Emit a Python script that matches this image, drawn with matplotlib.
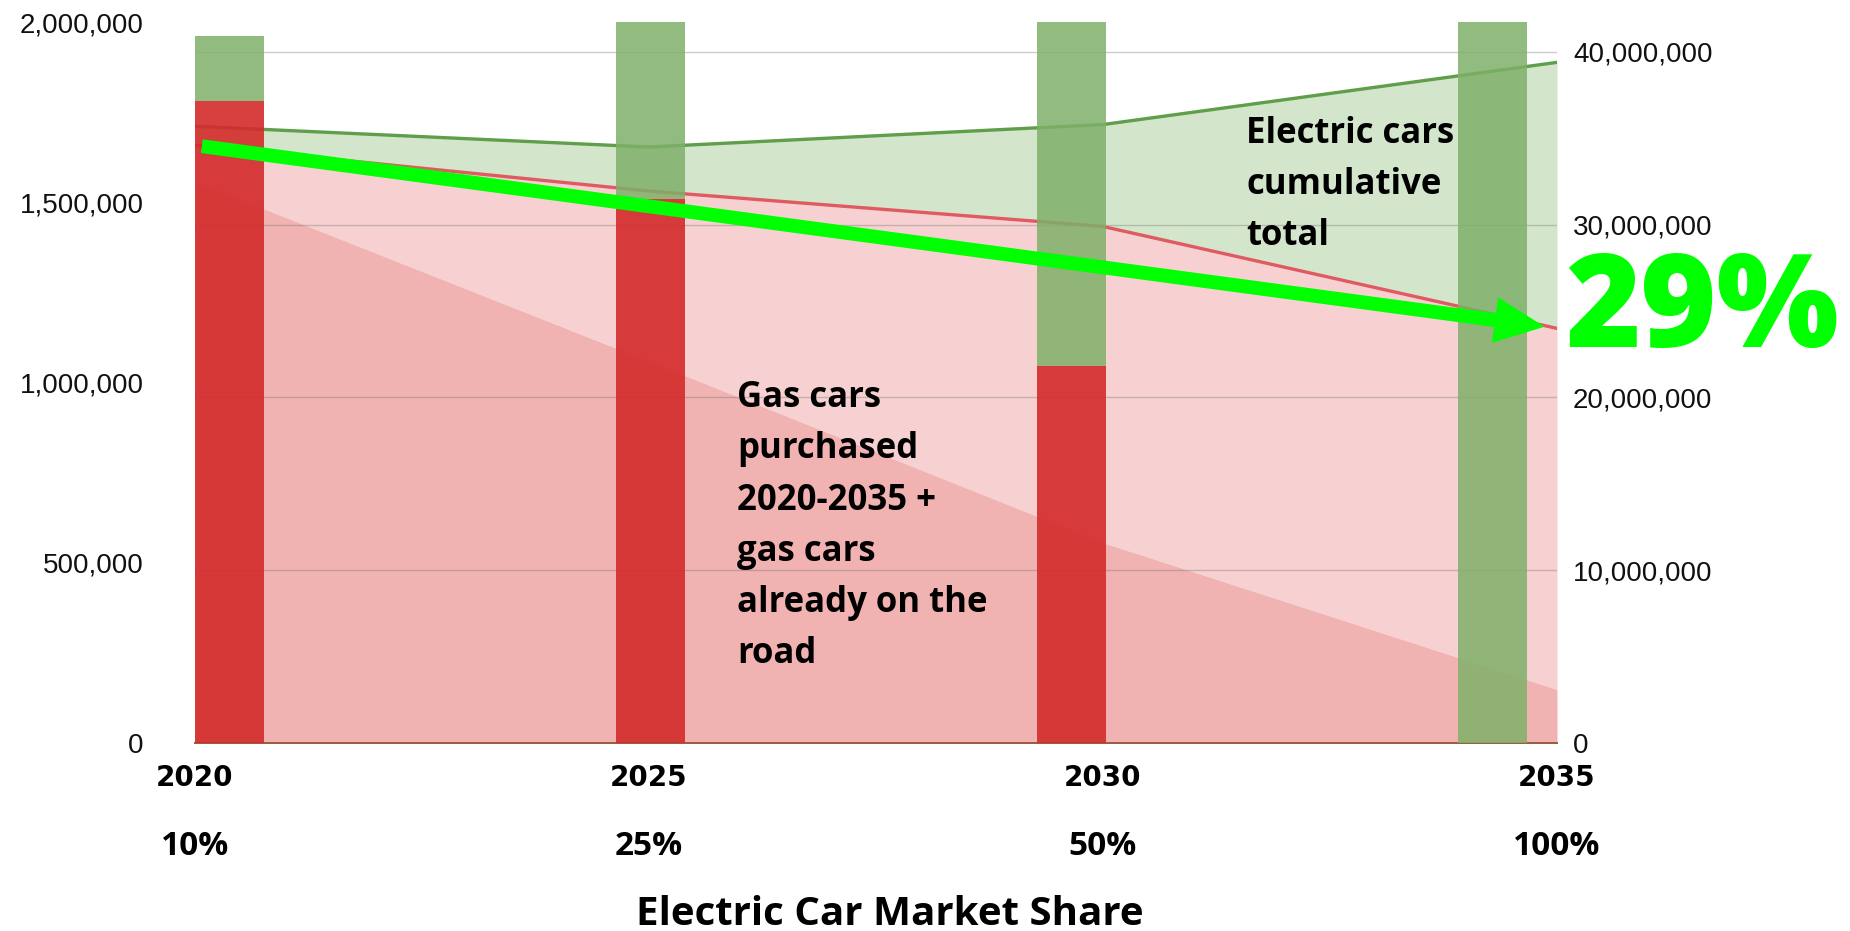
import matplotlib
matplotlib.use("Agg")
import matplotlib.pyplot as plt
from matplotlib.patches import FancyArrowPatch
from matplotlib.ticker import FuncFormatter
from matplotlib.transforms import blended_transform_factory

# area series (right axis), one point per year
years = [2020, 2025, 2030, 2035]
ev_share = ["10%", "25%", "50%", "100%"]
all_cars_on_road = [35.7e6, 34.5e6, 35.8e6, 39.4e6]
gas_cars_on_road = [34.6e6, 31.95e6, 29.9e6, 24.0e6]
gas_cars_existing = [32.5e6, 22.1e6, 11.6e6, 3.1e6]

# yearly sales bars (left axis)
gas_sales = [1.78e6, 1.51e6, 1.045e6, 0]
ev_sales = [0.18e6, 0.50e6, 1.045e6, 2.15e6]

left_ticks = [0, 500_000, 1_000_000, 1_500_000, 2_000_000]
right_ticks = [0, 10_000_000, 20_000_000, 30_000_000, 40_000_000]

headline = "29%"
gas_note = "Gas cars\npurchased\n2020-2035 +\ngas cars\nalready on the\nroad"
ev_note = "Electric cars\ncumulative\ntotal"
x_title = "Electric Car Market Share"

W, H = 1850, 931
BOLD_FONT = ["Open Sans", "DejaVu Sans"]
NUM_FONT = ["Liberation Sans", "DejaVu Sans"]
commas = FuncFormatter(lambda v, _: f"{v:,.0f}")

fig = plt.figure(figsize=(W / 100, H / 100), dpi=100)
rect = [195 / W, (H - 743) / H, (1557 - 195) / W, (743 - 22) / H]
ax = fig.add_axes(rect)
axb = fig.add_axes(rect, zorder=ax.get_zorder() + 1)
axb.patch.set_visible(False)

# stacked areas: existing gas cars, gas cars bought since 2020, electric cars
ax.fill_between(years, gas_cars_on_road, all_cars_on_road, color="#d3e6cc", lw=0)
ax.fill_between(years, gas_cars_existing, gas_cars_on_road, color="#f7d1d1", lw=0)
ax.fill_between(years, 0, gas_cars_existing, color="#f1b2b2", lw=0)
ax.plot(years, all_cars_on_road, color="#5f9e4a", lw=2.4)
ax.plot(years, gas_cars_on_road, color="#e05a62", lw=2.4)

ax.set_xlim(years[0], years[-1])
ax.set_ylim(0, 40e6 * 721 / 691)
ax.set_axisbelow("line")
ax.yaxis.grid(True, color="#6e6e6e", alpha=0.35, lw=1)
ax.yaxis.tick_right()
ax.set_yticks(right_ticks)
ax.yaxis.set_major_formatter(commas)
ax.set_xticks(years)
ax.tick_params(axis="y", length=0, pad=11.5, labelsize=20, labelcolor="#111111")
ax.tick_params(axis="x", length=0, pad=15)
for lbl in ax.get_yticklabels():
    lbl.set_family(NUM_FONT)
for lbl in ax.get_xticklabels():
    lbl.set_family(["DejaVu Sans"])
    lbl.set_fontweight("bold")
    lbl.set_fontsize(20)
for side in ("left", "right", "top"):
    ax.spines[side].set_visible(False)
ax.spines["bottom"].set_color("#9a5a3c")
ax.spines["bottom"].set_linewidth(1.4)

# bars on their own categorical axis
pos = list(range(len(years)))
axb.bar(pos, gas_sales, width=0.164, color="#d42a2a", alpha=0.9, lw=0)
axb.bar(pos, ev_sales, bottom=gas_sales, width=0.164, color="#7fb069", alpha=0.85, lw=0)
axb.set_xlim(-0.081, 3.154)
axb.set_ylim(0, 2e6)
axb.set_xticks([])
axb.set_yticks(left_ticks)
axb.yaxis.set_major_formatter(commas)
axb.tick_params(axis="y", length=0, pad=37, labelsize=20, labelcolor="#111111")
for lbl in axb.get_yticklabels():
    lbl.set_family(NUM_FONT)
for s in axb.spines.values():
    s.set_visible(False)

# big green arrow along the gas-car total
arrow = FancyArrowPatch(
    (years[0], gas_cars_on_road[0]), (years[-1], gas_cars_on_road[-1]),
    transform=ax.transData,
    arrowstyle="simple,head_length=36,head_width=33,tail_width=10",
    mutation_scale=1, shrinkA=5, shrinkB=9,
    color="#00ff00", lw=0, zorder=5,
)
fig.add_artist(arrow)

axb.text(1.006, 0.549, headline, transform=ax.transAxes, fontsize=93,
         fontweight="heavy", family=BOLD_FONT, color="#00ff00",
         ha="left", va="baseline", zorder=6)
# multi-line text: baseline alignment refers to the last line here
axb.text(0.398, 0.111, gas_note, transform=ax.transAxes, fontsize=25,
         fontweight="bold", family=BOLD_FONT, color="black",
         ha="left", va="baseline", linespacing=1.56, zorder=6)
axb.text(0.772, 0.691, ev_note, transform=ax.transAxes, fontsize=25,
         fontweight="bold", family=BOLD_FONT, color="black",
         ha="left", va="baseline", linespacing=1.56, zorder=6)

share_tr = blended_transform_factory(ax.transData, fig.transFigure)
for yr, share in zip(years, ev_share):
    ax.text(yr, (H - 855) / H, share, transform=share_tr, fontsize=24,
            fontweight="bold", family=BOLD_FONT, ha="center", va="baseline")

ax.text(0.51, (H - 925) / H, x_title,
        transform=blended_transform_factory(ax.transAxes, fig.transFigure),
        fontsize=29, fontweight="bold", family=BOLD_FONT,
        ha="center", va="baseline")

fig.savefig("out.png", dpi=100)
